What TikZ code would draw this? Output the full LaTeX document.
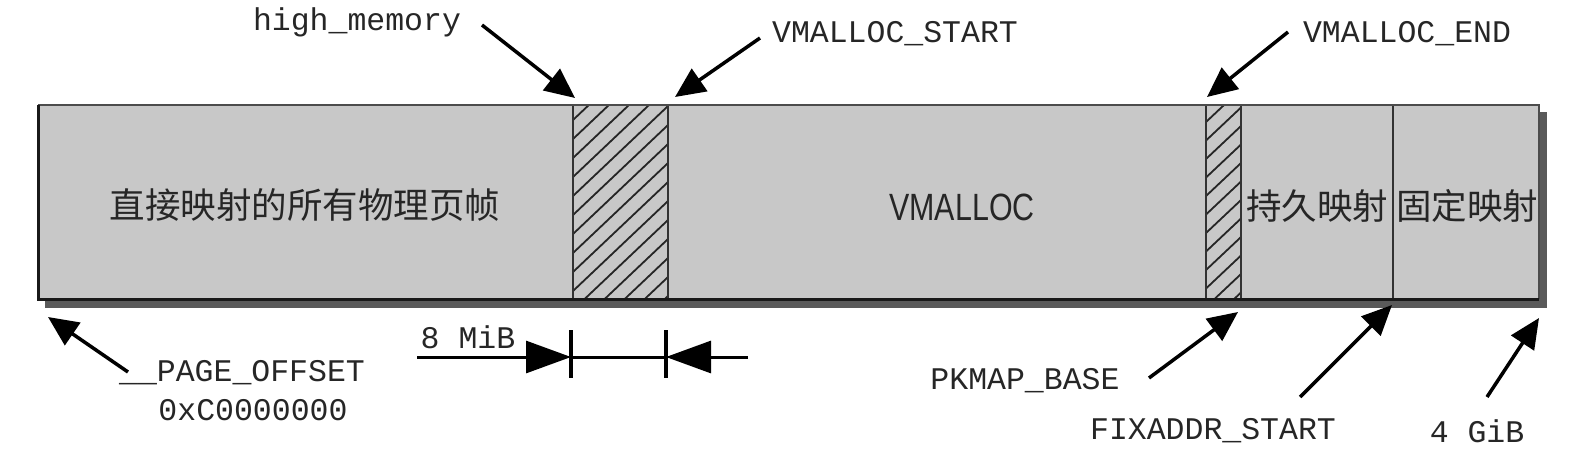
\documentclass[tikz,border=0pt]{standalone}
\usepackage{fontspec}
\setmonofont{Liberation Mono}
\newfontfamily\cjk{Noto Sans CJK SC}
\newfontfamily\narrowsans[FakeStretch=0.8]{Liberation Sans}
\usetikzlibrary{arrows.meta}
\definecolor{barfill}{HTML}{C8C8C8}
\definecolor{shadowc}{HTML}{5A5A5A}
\definecolor{inkc}{HTML}{262626}
\begin{document}
\begin{tikzpicture}[x=1pt,y=-1pt,
  monolbl/.style={inner sep=0pt,text=inkc,font=\ttfamily\fontsize{31.5}{36}\selectfont},
  cjklbl/.style={inner sep=0pt,text=inkc,font=\cjk\fontsize{35.5}{40}\selectfont},
  ptr/.style={line width=3.5pt,draw=black,-{Triangle[length=30pt,width=27pt]}},
  dimarrow/.style={line width=3pt,draw=black,-{Triangle[length=45pt,width=32pt]}},
  dimtick/.style={line width=3.5pt,draw=black},
  hatchline/.style={line width=1.8pt,draw=black!85},
  edge/.style={line width=2.5pt,draw=black!80}]
\useasboundingbox (0,0) rectangle (1576,472);
% shadow and bar
\fill[shadowc] (45,112) rectangle (1547,308);
\fill[barfill] (38,105) rectangle (1539,299);
% hatched region 1
\begin{scope}
  \clip (573,105) rectangle (668,299);
  \foreach \k in {-6,...,16} \draw[hatchline] (573,120+19*\k) -- ++(95,-90);
\end{scope}
\draw[edge] (573,105) -- (573,299);
\draw[edge] (668,105) -- (668,299);
% hatched region 2
\begin{scope}
  \clip (1206,105) rectangle (1241,299);
  \foreach \k in {-3,...,12} \draw[hatchline] (1206,122+18.5*\k) -- ++(35,-33);
\end{scope}
\draw[edge] (1206,105) -- (1206,299);
\draw[edge] (1241,105) -- (1241,299);
% divider
\draw[line width=2pt,draw=black!80] (1393,105) -- (1393,299);
% border
\draw[line width=2.5pt,draw=black!70] (38,105) -- (1539,105) -- (1539,299);
\draw[line width=3pt,draw=black!90] (38,105) -- (38,299) -- (1539,299);

% texts inside the bar
\node[cjklbl] (direct) at (305,205) {直接映射的所有物理页帧};
\node[inner sep=0pt,text=inkc,font=\narrowsans\fontsize{38}{42}\selectfont] (vmalloc) at (962,207) {VMALLOC};
\node[cjklbl] (pkmap) at (1317,206) {持久映射};
\node[cjklbl] (fixmap) at (1467,206) {固定映射};

% labels
\node[monolbl] (hm) at (357,22) {high\_memory};
\node[monolbl] (vs) at (895,34) {VMALLOC\_START};
\node[monolbl] (ve) at (1407,34) {VMALLOC\_END};
\node[monolbl] (po) at (242,373) {\_\_PAGE\_OFFSET};
\node[monolbl] (hex) at (253,410) {0xC0000000};
\node[monolbl] (mib) at (468,337) {8 MiB};
\node[monolbl] (pk) at (1025,381) {PKMAP\_BASE};
\node[monolbl] (fx) at (1213,431) {FIXADDR\_START};
\node[monolbl] (gib) at (1477,431) {4 GiB};

% arrow end points
\coordinate (hmS) at (482,25);  \coordinate (hmT) at (575,98);
\coordinate (vsS) at (760,38);  \coordinate (vsT) at (675,97);
\coordinate (veS) at (1288,32); \coordinate (veT) at (1207,97);
\coordinate (poS) at (128,372); \coordinate (poT) at (48,317);
\coordinate (pkS) at (1149,378); \coordinate (pkT) at (1238,312);
\coordinate (fxS) at (1300,397); \coordinate (fxT) at (1392,305);
\coordinate (gbS) at (1487,397); \coordinate (gbT) at (1539,318);
\draw[ptr] (hmS) -- (hmT);
\draw[ptr] (vsS) -- (vsT);
\draw[ptr] (veS) -- (veT);
\draw[ptr] (poS) -- (poT);
\draw[ptr] (pkS) -- (pkT);
\draw[ptr] (fxS) -- (fxT);
\draw[ptr] (gbS) -- (gbT);

% 8 MiB dimension
\coordinate (dL) at (417,357);
\coordinate (dA) at (571,357);
\coordinate (dB) at (666,357);
\coordinate (dR) at (748,357);
\draw[dimarrow] (dL) -- (dA);
\draw[dimarrow] (dR) -- (dB);
\draw[line width=3pt] (dA) -- (dB);
\draw[dimtick] (571,330) -- (571,378);
\draw[dimtick] (666,330) -- (666,378);
\end{tikzpicture}
\end{document}
